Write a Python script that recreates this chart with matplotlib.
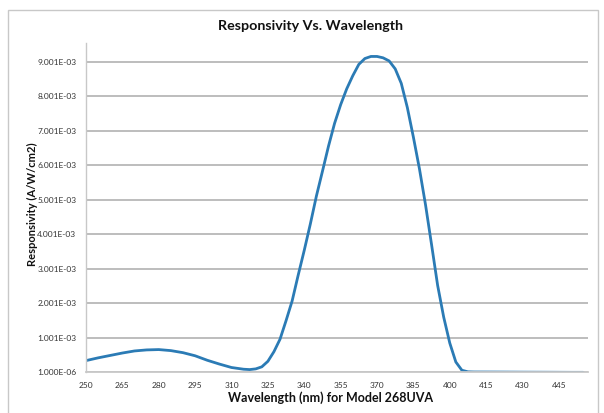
import matplotlib
matplotlib.use("Agg")
import matplotlib.pyplot as plt
from matplotlib.patches import Rectangle

# Readings from the chart (nm, A/W/cm2)
wavelength_nm = [250, 255, 260, 265, 270, 275, 280, 285, 290, 295, 300, 305,
                 310, 315, 317.5, 320, 322.5, 325, 327.5, 330, 332.5, 335,
                 337.5, 340, 342.5, 345, 347.5, 350, 352.5, 355, 357.5, 360,
                 362.5, 365, 367.5, 370, 372.5, 375, 377.5, 380, 382.5, 385,
                 387.5, 390, 392.5, 395, 397.5, 400, 402.5, 405, 407.5, 410,
                 420, 430, 440, 450, 455]
responsivity = [0.00034, 0.00042, 0.00049, 0.00056, 0.00062, 0.00065, 0.00066,
                0.00063, 0.00057, 0.00048, 0.00035, 0.00024, 0.00014, 0.00009,
                0.00008, 0.00010, 0.00016, 0.00032, 0.00060, 0.00096, 0.00150,
                0.00207, 0.00282, 0.00354, 0.00430, 0.00511, 0.00583, 0.00656,
                0.00722, 0.00776, 0.00822, 0.00860, 0.00893, 0.00910, 0.00916,
                0.00916, 0.00912, 0.00903, 0.00880, 0.00838, 0.00768, 0.00682,
                0.00590, 0.00486, 0.00370, 0.00252, 0.00160, 0.00085, 0.00030,
                0.00006, 0.000015, 0.00001, 0.000008, 0.000005, 0.000003,
                0.0, 0.0]

x_ticks = list(range(250, 446, 15))
y_ticks = [1e-6 + i * 1e-3 for i in range(10)]

font = "Lato"
W, H = 604, 413
fig = plt.figure(figsize=(W / 100, H / 100), dpi=100)
fig.patch.set_facecolor("white")

# scanned chart frame
fig.patches.append(Rectangle((8 / W, -5 / H), 590 / W, 408 / H, transform=fig.transFigure,
                             fill=False, edgecolor="#c8c8c8", linewidth=1.0))

ax = fig.add_axes([86 / W, (H - 372.3) / H, (588 - 86) / W, (372.3 - 43) / H])
ax.plot(wavelength_nm, responsivity, color="#2b7bb5", linewidth=2.0, solid_capstyle="round")

ax.set_xlim(250, 457)
ax.set_ylim(1e-6, 0.00955)
ax.set_xticks(x_ticks)
ax.set_xticklabels([str(v) for v in x_ticks], fontsize=6, family=font, color="#333333")
ax.set_yticks(y_ticks)
ax.set_yticklabels([f"{v:.3E}" for v in y_ticks], fontsize=6, family=font, color="#333333")
ax.tick_params(axis="both", length=0, pad=7)
ax.grid(axis="y", color="#b8b8b8", linewidth=1.3)
ax.set_axisbelow(True)
for side in ["top", "right"]:
    ax.spines[side].set_visible(False)
ax.spines["left"].set_color("#c8c8c8")
ax.spines["bottom"].set_color("#c8c8c8")
ax.spines["left"].set_linewidth(1.0)
ax.spines["bottom"].set_linewidth(1.3)

fig.text(311 / W, 1 - 26 / H, "Responsivity Vs. Wavelength", ha="center", va="center",
         fontsize=10.3, fontweight="bold", family=font, color="#111111")
fig.text(331 / W, 1 - 398 / H, "Wavelength (nm) for Model 268UVA", ha="center", va="center",
         fontsize=9, fontweight="bold", family=font, color="#111111")
fig.text(32 / W, 1 - 204 / H, "Responsivity (A/W/cm2)", ha="center", va="center",
         rotation=90, fontsize=8, fontweight="bold", family=font, color="#111111")

fig.savefig("out.png", dpi=100)
